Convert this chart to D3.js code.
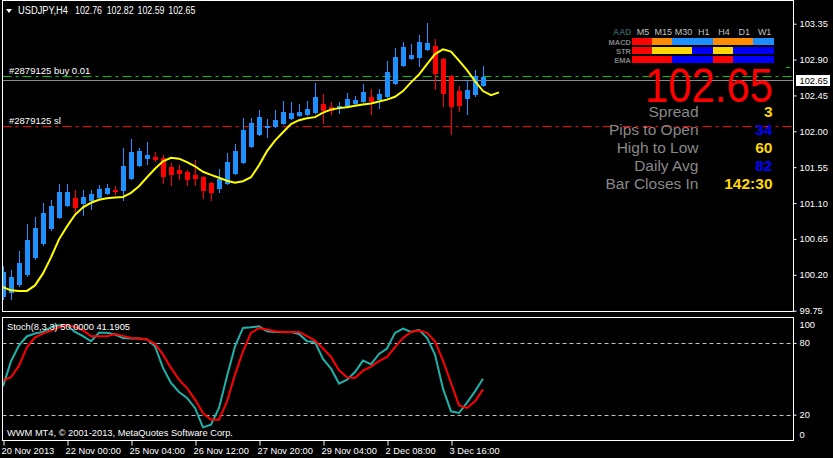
<!DOCTYPE html>
<html><head><meta charset="utf-8">
<script src="https://cdn.jsdelivr.net/npm/d3@7"></script>
<style>
html,body{margin:0;padding:0;background:#000;overflow:hidden;}
svg{display:block;}
text{font-family:"Liberation Sans",Arial,sans-serif;}
</style></head><body>
<svg id="c" width="833" height="458"></svg>
<script>
// ---------------- DATA ----------------
const symbolName = "USDJPY,H4";
const lastBarOHLC = [102.76, 102.82, 102.59, 102.65];
const opens = [
 99.917, 99.967,100.067,100.193,100.406,100.582,100.771,100.909,101.060,101.160,
101.085,101.122,101.160,101.210,101.261,101.248,101.399,101.562,101.650,101.675,
101.663,101.550,101.512,101.487,101.449,101.424,101.349,101.274,101.336,101.462,
101.600,101.801,101.952,102.052,102.052,102.090,102.153,102.190,102.203,102.228,
102.341,102.303,102.278,102.303,102.341,102.366,102.429,102.391,102.429,102.592,
102.819,102.906,102.919,103.019,103.070,102.906,102.693,102.505,102.404,102.454,
102.567];
const highs = [
100.306,100.256,100.494,100.834,100.922,101.097,101.135,101.336,101.336,101.261,
101.261,101.261,101.324,101.336,101.311,101.788,101.901,101.788,101.864,101.738,
101.700,101.600,101.575,101.512,101.638,101.437,101.361,101.525,101.726,101.839,
102.165,102.165,102.266,102.153,102.266,102.379,102.366,102.341,102.379,102.605,
102.467,102.366,102.366,102.479,102.442,102.592,102.530,102.530,102.881,103.045,
103.120,103.095,103.208,103.359,103.158,102.919,102.705,102.567,102.643,102.768,
102.819];
const lows = [
 99.879, 99.879,100.042,100.168,100.381,100.557,100.746,100.896,101.047,100.934,
100.934,101.010,101.148,101.198,101.198,101.122,101.387,101.550,101.575,101.613,
101.336,101.311,101.387,101.311,101.311,101.148,101.122,101.223,101.324,101.449,
101.588,101.788,101.939,101.914,102.040,102.077,102.140,102.178,102.190,102.215,
102.090,102.203,102.215,102.291,102.328,102.354,102.203,102.278,102.417,102.580,
102.806,102.894,102.806,103.007,102.517,102.303,101.952,102.240,102.203,102.429,
102.555];
const closes = [
100.231,100.168,100.344,100.633,100.783,100.972,101.060,101.236,101.236,101.035,
101.173,101.210,101.274,101.286,101.248,101.562,101.738,101.751,101.700,101.638,
101.424,101.449,101.462,101.387,101.399,101.248,101.223,101.399,101.613,101.751,
102.015,102.102,102.178,102.065,102.140,102.240,102.228,102.240,102.278,102.429,
102.253,102.253,102.316,102.404,102.391,102.492,102.366,102.467,102.743,102.932,
103.057,102.957,103.120,103.107,102.718,102.467,102.303,102.316,102.517,102.693,
102.680];
// shifted moving average (extends 2 bars past the last candle)
const maValues = [
100.046,100.005, 99.998, 99.998,100.067,100.218,100.419,100.645,100.808,100.953,
101.047,101.104,101.141,101.160,101.170,101.177,101.228,101.311,101.424,101.531,
101.623,101.667,101.657,101.613,101.562,101.493,101.454,101.418,101.380,101.355,
101.374,101.424,101.575,101.751,101.883,101.989,102.090,102.140,102.165,102.178,
102.234,102.272,102.291,102.303,102.320,102.337,102.350,102.373,102.398,102.433,
102.505,102.614,102.712,102.844,102.969,103.028,103.001,102.888,102.768,102.630,
102.505,102.454,102.488];
const stochMain = [
43.7,64.7,78.0,85.6,87.8,89.2,93.1,94.8,94.8,89.2,
85.6,81.4,88.4,88.4,87.0,84.2,83.6,83.6,82.8,77.2,
59.1,46.5,39.0,34.0,25.6, 9.4,11.7,25.6,52.1,77.2,
92.5,93.1,93.9,89.8,89.2,89.2,89.2,87.5,81.4,80.8,
66.6,58.5,46.0,49.3,55.7,65.2,62.1,70.8,75.3,88.4,
92.0,89.2,90.9,84.2,70.2,41.8,22.8,21.4,30.1,39.5,
50.0];
const stochSignal = [
48.5,51.3,61.0,76.4,84.7,87.8,90.3,93.1,94.8,93.4,
90.6,85.6,85.6,85.6,87.5,85.9,84.2,83.6,82.8,79.2,
70.2,59.1,49.3,42.3,32.6,21.4,15.8,15.8,31.2,53.5,
73.0,88.4,92.5,91.2,89.8,89.2,89.2,89.2,85.6,81.9,
75.3,68.3,57.1,51.3,50.7,56.8,60.2,64.7,68.3,76.4,
84.2,89.2,90.3,88.4,81.4,65.2,46.5,27.8,25.6,31.2,
41.19];
const stochTitle = "Stoch(8,3,3) 50.0000 41.1905";
const copyrightText = "WWM MT4, \u00A9 2001-2013, MetaQuotes Software Corp.";
const priceTicks = [103.35,102.90,102.45,102.00,101.55,101.10,100.65,100.20,99.75];
const stochTicks = [100,80,20,0];
const stochLevels = [80,20];
const dateBars = [0,8,16,24,32,40,48,56];
const dateLabels = ["20 Nov 2013","22 Nov 00:00","25 Nov 04:00","26 Nov 12:00","27 Nov 20:00","29 Nov 04:00","2 Dec 08:00","3 Dec 16:00"];
const bidPrice = 102.65;
const buyPrice = 102.693;
const slPrice = 102.065;
const upperMarkPrice = 102.81;
const buyLabel = "#2879125 buy 0.01";
const slLabel = "#2879125 sl";
const timeframes = ["M5","M15","M30","H1","H4","D1","W1"];
const aadRows = ["MACD","STR","EMA"];
const macdStates = ["red","orange","dblue","dblue","orange","orange","dblue"];
const strStates  = ["red","gold","gold","blue","gold","blue","blue"];
const emaStates  = ["red","red","blue","blue","red","blue","blue"];
const infoLabels = ["Spread","Pips to Open","High to Low","Daily Avg","Bar Closes In"];
const infoValues = ["3","34","60","82","142:30"];
const infoValueColors = ["#ffd700","#0000ff","#ffd700","#0000ff","#ffd700"];

// ---------------- DRAW ----------------
const svg = d3.select("#c");
svg.append("rect").attr("width",833).attr("height",458).attr("fill","#000");

const L = 2.5, R = 793.5, mTop = 0.5, mBot = 311.5, sTop = 317.5, sBot = 440.5;
const x = d3.scaleLinear().domain([0,1]).range([3,11]);
const y = d3.scaleLinear().domain([99.75,103.35]).range([310.7,23.7]);
const ys = d3.scaleLinear().domain([0,100]).range([438.6,319]);

const defs = svg.append("defs");
defs.append("clipPath").attr("id","cm").append("rect").attr("x",3).attr("y",1).attr("width",790).attr("height",310);
defs.append("clipPath").attr("id","cs").append("rect").attr("x",3).attr("y",318).attr("width",790).attr("height",122);

const main = svg.append("g").attr("clip-path","url(#cm)");

// order lines
main.append("line").attr("x1",L).attr("x2",R).attr("y1",Math.round(y(buyPrice))+0.5).attr("y2",Math.round(y(buyPrice))+0.5)
  .attr("stroke","#00c800").attr("stroke-dasharray","9,4,3,4");
main.append("line").attr("x1",L).attr("x2",R).attr("y1",Math.round(y(slPrice))+0.5).attr("y2",Math.round(y(slPrice))+0.5)
  .attr("stroke","#ff0000").attr("stroke-dasharray","9,4,3,4");
// bid line
main.append("line").attr("x1",L).attr("x2",R).attr("y1",Math.round(y(bidPrice))+0.5).attr("y2",Math.round(y(bidPrice))+0.5)
  .attr("stroke","#8a8a8a");

// candles
const bars = opens.map((o,i)=>({i,o,h:highs[i],l:lows[i],c:closes[i]}));
const cg = main.append("g").attr("shape-rendering","crispEdges");
cg.selectAll("line.w").data(bars).join("line")
  .attr("x1",d=>x(d.i)+0.5).attr("x2",d=>x(d.i)+0.5)
  .attr("y1",d=>y(d.h)).attr("y2",d=>y(d.l))
  .attr("stroke",d=>d.c>=d.o?"#1e90ff":"#ff0000");
cg.selectAll("rect.b").data(bars).join("rect")
  .attr("x",d=>x(d.i)-2).attr("width",5)
  .attr("y",d=>y(Math.max(d.o,d.c)))
  .attr("height",d=>Math.max(1.5,Math.abs(y(d.o)-y(d.c))))
  .attr("fill",d=>d.c>=d.o?"#1e90ff":"#ff0000");

// MA
main.append("path").datum(maValues)
  .attr("d",d3.line().x((d,i)=>x(i)).y(d=>y(d)))
  .attr("fill","none").attr("stroke","#ffff00").attr("stroke-width",2);

// order labels
main.append("text").attr("x",9).attr("y",Math.round(y(buyPrice))-2).attr("fill","#fff").attr("font-size","9.5px").text(buyLabel);
main.append("text").attr("x",9).attr("y",Math.round(y(slPrice))-2).attr("fill","#fff").attr("font-size","9.5px").text(slLabel);

// ---- info panel ----
const cellW = 20.25, cellX0 = 631.5;
const stateColor = {red:"#ff0000",orange:"#ff8c00",dblue:"#1e90ff",blue:"#0000ff",gold:"#ffd700"};
svg.append("text").attr("x",631.5).attr("y",34.5).attr("text-anchor","end").attr("font-size","8.5px")
  .attr("font-weight","bold").attr("fill","#2f5a5a").text("AAD");
svg.selectAll("text.tf").data(timeframes).join("text")
  .attr("x",(d,j)=>cellX0+cellW*j+cellW/2+1.5).attr("y",34.5).attr("text-anchor","middle")
  .attr("font-size","9px").attr("fill","#c0c0c0").text(d=>d);
[macdStates,strStates,emaStates].forEach((row,r)=>{
  const ry = 38 + r*9;
  svg.append("text").attr("x",631).attr("y",ry+6.5).attr("text-anchor","end").attr("font-size","7.5px")
    .attr("font-weight","bold").attr("fill","#808080").text(aadRows[r]);
  svg.append("g").attr("shape-rendering","crispEdges").selectAll("rect").data(row).join("rect")
    .attr("x",(d,j)=>cellX0+cellW*j).attr("y",ry).attr("width",cellW+0.3).attr("height",7)
    .attr("fill",d=>stateColor[d]);
});
svg.append("text").attr("x",773).attr("y",101.5).attr("text-anchor","end").attr("font-size","48px")
  .attr("textLength",128).attr("lengthAdjust","spacingAndGlyphs").attr("fill","#ff0000").text(bidPrice.toFixed(2));
infoLabels.forEach((lab,k)=>{
  const by = 117.3 + k*17.9;
  svg.append("text").attr("x",698.5).attr("y",by).attr("text-anchor","end").attr("font-size","15.5px")
    .attr("fill","#888888").text(lab);
  svg.append("text").attr("x",772.5).attr("y",by).attr("text-anchor","end").attr("font-size","15.5px")
    .attr("font-weight","bold").attr("fill",infoValueColors[k]).text(infoValues[k]);
});

// title
svg.append("path").attr("d","M6,9L12,9L9,13Z").attr("fill","#fff");
const titleParts = [symbolName].concat(lastBarOHLC.map(v=>v.toFixed(2)));
const titleX = [18,75,106.7,137.5,168.3];
svg.selectAll("text.ttl").data(titleParts).join("text").attr("class","ttl")
  .attr("x",(d,i)=>titleX[i]).attr("y",14.3).attr("fill","#fff").attr("font-size","10px")
  .attr("textLength",(d,i)=>i===0?50:27).attr("lengthAdjust","spacingAndGlyphs").text(d=>d);

// ---- stochastic panel ----
const st = svg.append("g").attr("clip-path","url(#cs)");
st.selectAll("line.lv").data(stochLevels).join("line")
  .attr("x1",L).attr("x2",R).attr("y1",d=>Math.round(ys(d))+0.5).attr("y2",d=>Math.round(ys(d))+0.5)
  .attr("stroke","#c0c0c0").attr("stroke-dasharray","4,3");
const sline = d3.line().x((d,i)=>x(i)).y(d=>ys(d));
st.append("path").datum(stochMain).attr("d",sline).attr("fill","none").attr("stroke","#20b2aa").attr("stroke-width",2);
st.append("path").datum(stochSignal).attr("d",sline).attr("fill","none").attr("stroke","#ff0000").attr("stroke-width",2);
svg.append("text").attr("x",7).attr("y",329.5).attr("fill","#fff").attr("font-size","9.3px").text(stochTitle);
svg.append("text").attr("x",7).attr("y",435.5).attr("fill","#fff").attr("font-size","9.3px").text(copyrightText);

// ---- frames ----
const fr = svg.append("g").attr("fill","none").attr("stroke","#fff").attr("shape-rendering","crispEdges");
fr.append("rect").attr("x",L).attr("y",mTop).attr("width",R-L).attr("height",mBot-mTop);
fr.append("rect").attr("x",L).attr("y",sTop).attr("width",R-L).attr("height",sBot-sTop);

// ---- price axis ----
const pax = svg.append("g").attr("transform",`translate(${R},0)`)
  .call(d3.axisRight(y).tickValues(priceTicks).tickFormat(d3.format(".2f")).tickSize(3).tickPadding(3));
pax.select(".domain").remove();
pax.selectAll("line").attr("stroke","#fff");
pax.selectAll("text").attr("fill","#fff").attr("font-size","9.3px").attr("font-family","Liberation Sans, Arial, sans-serif");

// bid box
const by0 = Math.round(y(bidPrice));
svg.append("rect").attr("x",796).attr("y",by0-5).attr("width",34).attr("height",11).attr("fill","#fff");
svg.append("text").attr("x",799.5).attr("y",by0+3.5).attr("font-size","9.3px").attr("fill","#000").text(bidPrice.toFixed(2));
// right markers
svg.append("line").attr("x1",786).attr("x2",790).attr("y1",Math.round(y(upperMarkPrice))+0.5).attr("y2",Math.round(y(upperMarkPrice))+0.5).attr("stroke","#00c800");
svg.append("line").attr("x1",786).attr("x2",790).attr("y1",Math.round(y(slPrice))+0.5).attr("y2",Math.round(y(slPrice))+0.5).attr("stroke","#ff0000");

// ---- stoch axis ----
const sax = svg.append("g").attr("transform",`translate(${R},0)`)
  .call(d3.axisRight(ys).tickValues(stochTicks).tickFormat(d3.format("d")).tickSize(3).tickPadding(3));
sax.select(".domain").remove();
sax.selectAll("line").attr("stroke",d=>(d===100||d===0)?"none":"#fff");
sax.selectAll("text").attr("fill","#fff").attr("font-size","9.3px").attr("font-family","Liberation Sans, Arial, sans-serif")
  .attr("dy",d=>d===100?"0.95em":(d===0?"-0.15em":"0.32em"));

// ---- date axis ----
const dax = svg.append("g").attr("transform",`translate(0,${sBot})`)
  .call(d3.axisBottom(x).tickValues(dateBars).tickFormat((d,i)=>dateLabels[i]).tickSize(5).tickPadding(2));
dax.select(".domain").remove();
dax.selectAll("line").attr("stroke","#fff").attr("transform","translate(0.5,0)");
dax.selectAll("text").attr("fill","#fff").attr("font-size","9.3px").attr("font-family","Liberation Sans, Arial, sans-serif")
  .attr("text-anchor","start").attr("x",-2);
</script>
</body></html>
